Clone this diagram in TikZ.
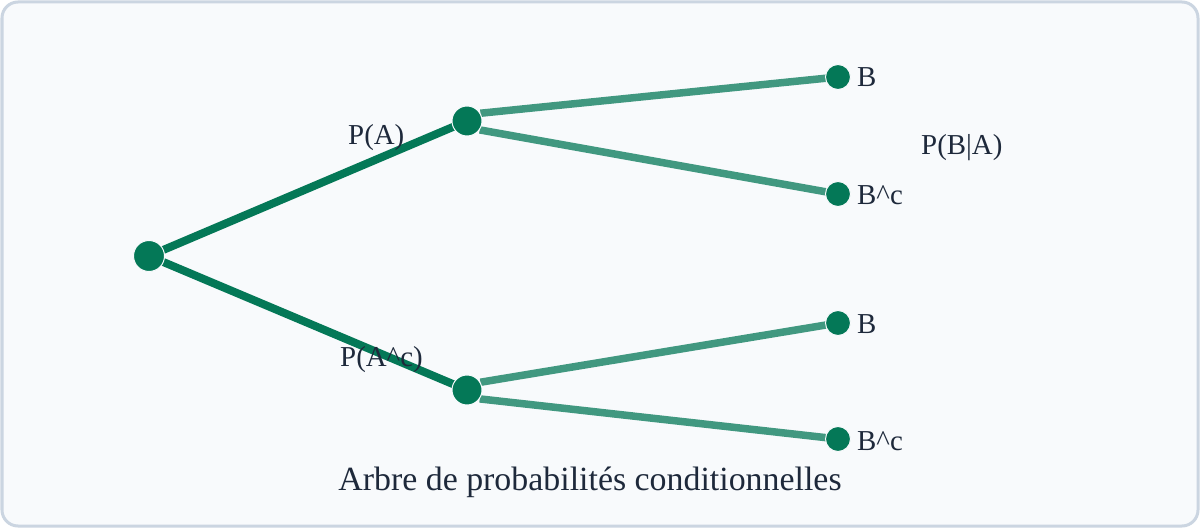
\documentclass[tikz,border=0pt]{standalone}
\usepackage{fontspec}
\setmainfont{Liberation Serif}
\usetikzlibrary{backgrounds}
\definecolor{frameline}{HTML}{CBD5E1}
\definecolor{framefill}{HTML}{F8FAFC}
\definecolor{treegreen}{HTML}{047857}
\definecolor{inktext}{HTML}{1E293B}
\begin{document}
\begin{tikzpicture}[x=1bp,y=-1bp,
  rootdot/.style={circle,fill=treegreen,draw=framefill,line width=1bp,inner sep=0pt,minimum size=31bp},
  middot/.style={circle,fill=treegreen,draw=framefill,line width=1bp,inner sep=0pt,minimum size=30bp},
  leafdot/.style={circle,fill=treegreen,draw=framefill,line width=1bp,inner sep=0pt,minimum size=25bp},
  firstedge/.style={draw=treegreen,line width=8bp},
  secondedge/.style={draw=treegreen,draw opacity=0.75,line width=7.5bp},
  lbl/.style={text=inktext,inner sep=0pt,font=\fontsize{29}{34}\selectfont},
  titlelbl/.style={text=inktext,inner sep=0pt,font=\fontsize{34}{40}\selectfont}]
\useasboundingbox (0,0) rectangle (1200,528);

\node[rootdot] (r) at (149,256) {};
\node[middot] (a) at (467,121) {};
\node[middot] (ac) at (467,390) {};
\node[leafdot] (ab) at (838,77) {};
\node[leafdot] (abc) at (838,194) {};
\node[leafdot] (acb) at (838,323) {};
\node[leafdot] (acbc) at (838,439) {};

\begin{pgfonlayer}{background}
\fill[white] (0,0) rectangle (1200,528);
\draw[frameline,fill=framefill,line width=3bp,rounded corners=16bp] (2,2) rectangle (1198,526);
\draw[firstedge] (r.center) -- (a.center);
\draw[firstedge] (r.center) -- (ac.center);
\draw[secondedge] (a.30) -- (ab.center);
\draw[secondedge] (a.-35) -- (abc.center);
\draw[secondedge] (ac.30) -- (acb.center);
\draw[secondedge] (ac.-35) -- (acbc.center);
\end{pgfonlayer}

\node[lbl,anchor=base west] (lab) at (857,87) {B};
\node[lbl,anchor=base west] (labc) at (857,205) {B\^{}c};
\node[lbl,anchor=base west] (lacb) at (857,334) {B};
\node[lbl,anchor=base west] (lacbc) at (857,450) {B\^{}c};
\node[lbl,anchor=base west] (lpa) at (348,145) {P(A)};
\node[lbl,anchor=base west] (lpac) at (340,367) {P(A\^{}c)};
\node[lbl,anchor=base west] (lpba) at (921,155) {P(B|A)};
\node[titlelbl,anchor=base] (title) at (590,490) {Arbre de probabilités conditionnelles};
\end{tikzpicture}
\end{document}
